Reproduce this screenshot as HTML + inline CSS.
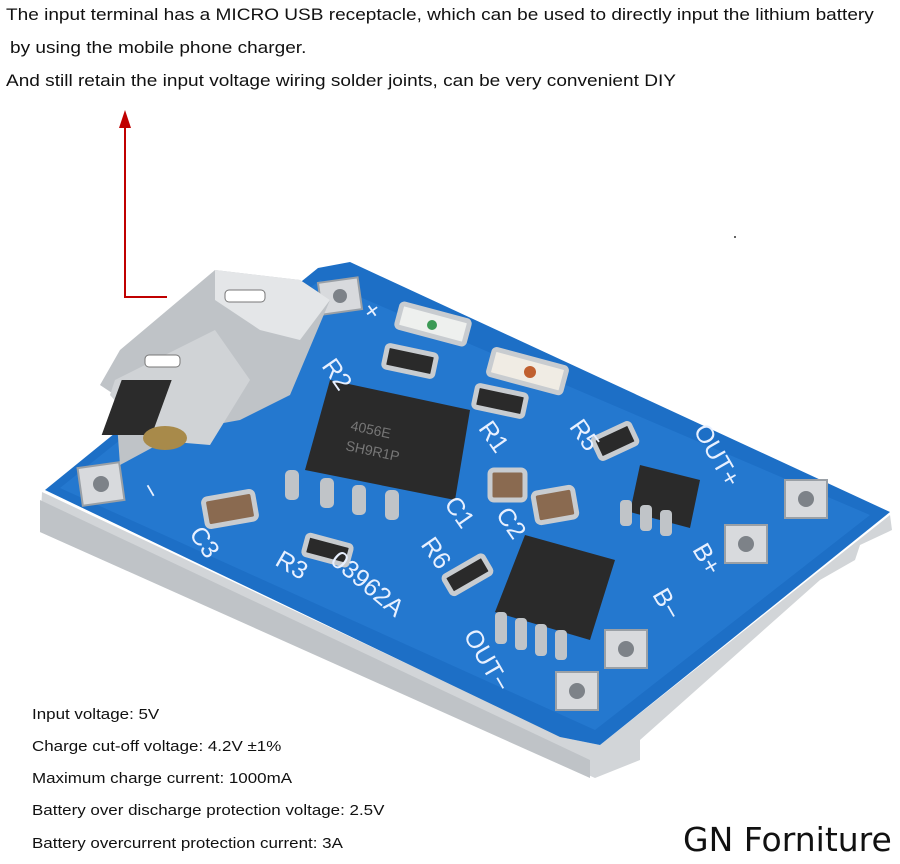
<!DOCTYPE html>
<html><head><meta charset="utf-8"><style>
html,body{margin:0;padding:0;background:#fff;}
body{width:900px;height:864px;overflow:hidden;position:relative;font-family:"Liberation Sans",Arial,sans-serif;}
.t{position:absolute;font-size:17px;color:#111;white-space:nowrap;transform:scaleX(1.12);transform-origin:0 0;}
.s{position:absolute;font-size:15px;color:#111;white-space:nowrap;transform:scaleX(1.13);transform-origin:0 0;}
</style></head><body>
<svg width="900" height="864" style="position:absolute;left:0;top:0">
<line x1="125" y1="124" x2="125" y2="297" stroke="#c00000" stroke-width="2"/>
<line x1="124" y1="297" x2="167" y2="297" stroke="#c00000" stroke-width="2"/>
<polygon points="125,110 119,128 131,128" fill="#c00000"/>
<polygon points="42,492 565,738 600,745 890,515 892,530 860,545 855,560 820,580 640,740 640,760 595,778 40,532" fill="#d2d5d8"/>
<polygon points="40,500 590,760 590,778 40,532" fill="#bfc3c7"/>
<polygon points="45,490 318,268 350,262 890,512 600,745 560,737" fill="#1d6fc6"/>
<polygon points="60,488 320,280 870,515 595,730" fill="#2a7fd6" opacity="0.6"/>
<g fill="#d8dadd" stroke="#9aa0a6" stroke-width="2">
<rect x="80" y="465" width="42" height="38" transform="rotate(-8 101 484)"/>
<rect x="320" y="280" width="40" height="32" transform="rotate(-8 340 296)"/>
<rect x="785" y="480" width="42" height="38"/>
<rect x="725" y="525" width="42" height="38"/>
<rect x="605" y="630" width="42" height="38"/>
<rect x="556" y="672" width="42" height="38"/>
</g>
<g fill="#7d8288"><circle cx="101" cy="484" r="8"/><circle cx="340" cy="296" r="7"/><circle cx="806" cy="499" r="8"/><circle cx="746" cy="544" r="8"/><circle cx="626" cy="649" r="8"/><circle cx="577" cy="691" r="8"/></g>
<polygon points="120,465 185,430 240,420 290,395 330,300 300,280 215,270 120,350 100,385 115,395" fill="#bfc3c7"/>
<polygon points="215,270 300,280 330,300 300,340 260,330 215,300" fill="#e4e6e8"/>
<polygon points="115,380 215,330 250,380 210,445 150,440 110,395" fill="#d0d3d6"/>
<rect x="225" y="290" width="40" height="12" rx="4" fill="#fff" stroke="#777"/>
<rect x="145" y="355" width="35" height="12" rx="4" fill="#fff" stroke="#777"/>
<rect x="260" y="380" width="50" height="55" fill="#2b2b2b" transform="skewX(-20)"/>
<ellipse cx="165" cy="438" rx="22" ry="12" fill="#a88a4a"/>
<polygon points="330,380 470,410 455,500 305,470" fill="#2a2a2a"/>
<g fill="#c0c4c8"><rect x="285" y="470" width="14" height="30" rx="5"/><rect x="320" y="478" width="14" height="30" rx="5"/><rect x="352" y="485" width="14" height="30" rx="5"/><rect x="385" y="490" width="14" height="30" rx="5"/></g>
<text x="350" y="430" fill="#777" font-size="14" transform="rotate(12 350 430)">4056E</text>
<text x="345" y="450" fill="#777" font-size="14" transform="rotate(12 345 450)">SH9R1P</text>
<polygon points="525,535 615,560 590,640 495,612" fill="#2a2a2a"/>
<g fill="#c0c4c8"><rect x="495" y="612" width="12" height="32" rx="4"/><rect x="515" y="618" width="12" height="32" rx="4"/><rect x="535" y="624" width="12" height="32" rx="4"/><rect x="555" y="630" width="12" height="30" rx="4"/></g>
<polygon points="640,465 700,480 690,528 630,512" fill="#2a2a2a"/>
<g fill="#c0c4c8"><rect x="620" y="500" width="12" height="26" rx="4"/><rect x="640" y="505" width="12" height="26" rx="4"/><rect x="660" y="510" width="12" height="26" rx="4"/></g>
<g fill="#8a6a50" stroke="#c8ccd0" stroke-width="5"><rect x="205" y="495" width="50" height="28" rx="4" transform="rotate(-10 230 509)"/><rect x="490" y="470" width="35" height="30" rx="4"/><rect x="535" y="490" width="40" height="30" rx="4" transform="rotate(-10 555 505)"/></g>
<g fill="#2a2a2a" stroke="#c8ccd0" stroke-width="5"><rect x="385" y="350" width="50" height="22" rx="3" transform="rotate(12 410 361)"/><rect x="475" y="390" width="50" height="22" rx="3" transform="rotate(12 500 401)"/><rect x="595" y="430" width="40" height="22" rx="3" transform="rotate(-25 615 441)"/><rect x="305" y="540" width="45" height="20" rx="3" transform="rotate(15 327 550)"/><rect x="445" y="565" width="45" height="20" rx="3" transform="rotate(-30 467 575)"/></g>
<g stroke="#c8ccd0" stroke-width="5"><rect x="398" y="312" width="70" height="24" rx="3" fill="#eef0ee" transform="rotate(15 433 324)"/><rect x="490" y="358" width="75" height="26" rx="3" fill="#f0ece4" transform="rotate(15 527 371)"/></g>
<circle cx="432" cy="325" r="5" fill="#3c9a55"/><circle cx="530" cy="372" r="6" fill="#c06030"/>
<g fill="#e8f0ff" font-size="25" font-family="Liberation Sans,Arial,sans-serif">
<text x="365" y="322" transform="rotate(55 375 312)">+</text>
<text x="322" y="380" transform="rotate(55 335 372)">R2</text>
<text x="480" y="440" transform="rotate(55 490 432)">R1</text>
<text x="570" y="440" transform="rotate(55 582 432)">R5</text>
<text x="670" y="440" transform="rotate(60 690 455)">OUT+</text>
<text x="140" y="500" transform="rotate(60 150 494)">−</text>
<text x="190" y="545" transform="rotate(55 200 538)">C3</text>
<text x="445" y="515" transform="rotate(55 455 508)">C1</text>
<text x="495" y="525" transform="rotate(55 505 520)">C2</text>
<text x="420" y="555" transform="rotate(55 430 550)">R6</text>
<text x="275" y="570" transform="rotate(30 285 565)">R3</text>
<text x="330" y="570" transform="rotate(40 340 565)">03962A</text>
<text x="680" y="560" transform="rotate(60 695 565)">B+</text>
<text x="640" y="605" transform="rotate(60 655 610)">B−</text>
<text x="440" y="645" transform="rotate(60 460 660)">OUT−</text>
</g>
<circle cx="735" cy="237" r="1" fill="#333"/>
</svg>
<div class="t" style="left:6px;top:5px">The input terminal has a MICRO USB receptacle, which can be used to directly input the lithium battery</div>
<div class="t" style="left:10px;top:38px">by using the mobile phone charger.</div>
<div class="t" style="left:6px;top:71px">And still retain the input voltage wiring solder joints, can be very convenient DIY</div>
<div class="s" style="left:32px;top:706px">Input voltage: 5V</div>
<div class="s" style="left:32px;top:738px">Charge cut-off voltage: 4.2V ±1%</div>
<div class="s" style="left:32px;top:770px">Maximum charge current: 1000mA</div>
<div class="s" style="left:32px;top:802px">Battery over discharge protection voltage: 2.5V</div>
<div class="s" style="left:32px;top:835px">Battery overcurrent protection current: 3A</div>
<div style="position:absolute;left:683px;top:820px;font-size:33px;font-family:'DejaVu Sans',sans-serif;color:#111;white-space:nowrap">GN Forniture</div>
</body></html>
